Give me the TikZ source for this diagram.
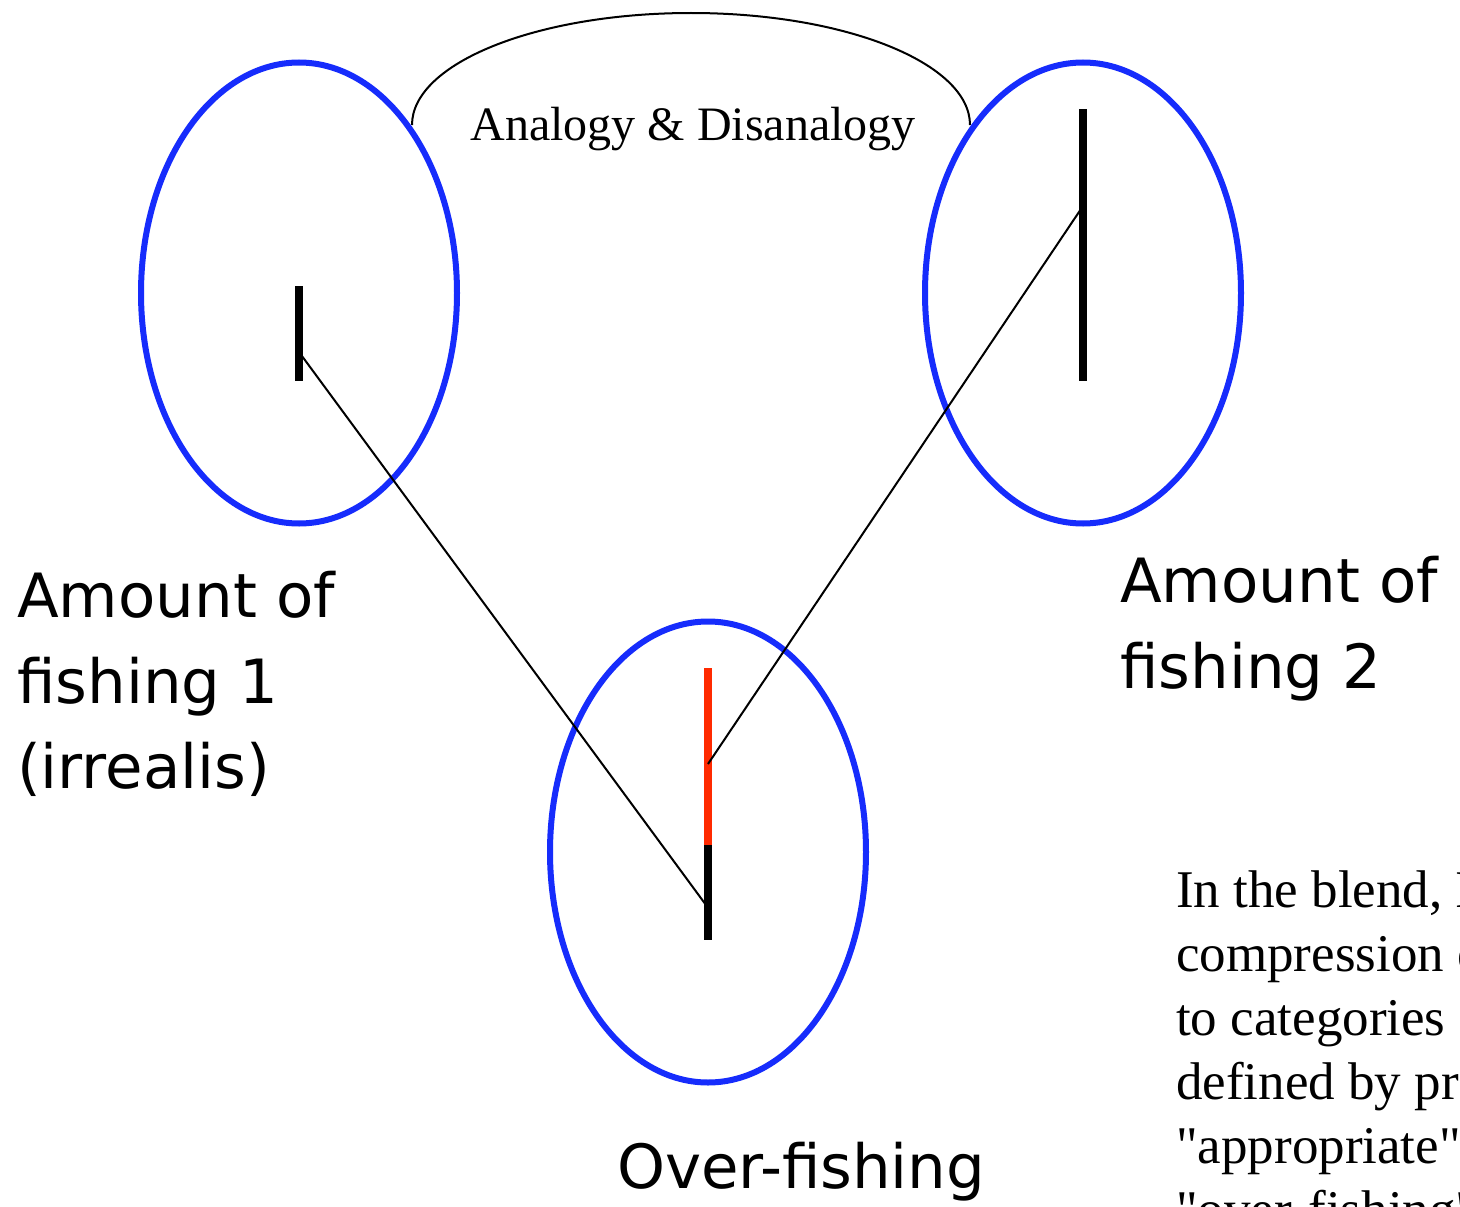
\documentclass[tikz,border=0pt]{standalone}
\usepackage{fontspec}
\setmainfont{Liberation Serif}
\newfontfamily\notefont{Liberation Serif}
\newfontfamily\lblfont{DejaVu Sans}
\usetikzlibrary{shapes.geometric}
\definecolor{ringblue}{RGB}{22,44,252}
\definecolor{barred}{RGB}{255,42,0}
\tikzset{
  ring/.style={draw=ringblue, line width=6pt, ellipse, inner sep=0pt,
    minimum width=316pt, minimum height=461pt},
  barline/.style={line width=8pt, line cap=butt},
  link/.style={line width=2pt},
  sanslbl/.style={anchor=base west, inner sep=0pt, font=\lblfont\fontsize{61}{85}\selectfont},
  seriflbl/.style={anchor=base west, inner sep=0pt, font=\notefont\fontsize{53}{64}\selectfont},
}
\begin{document}
\begin{tikzpicture}[x=1pt,y=-1pt]
\useasboundingbox (0,0) rectangle (1460,1207);
\clip (0,0) rectangle (1460,1207);
\fill[white] (0,0) rectangle (1460,1207);

% ellipses
\node[ring] (e1) at (299,293) {};
\node[ring] (e2) at (1083,293) {};
\node[ring] (e3) at (708,852) {};

% arc
\coordinate (arcL) at (412,125);
\draw[line width=2pt] (arcL) arc[start angle=180, end angle=360, x radius=279, y radius=112];
\node[inner sep=0pt, anchor=base, font=\fontsize{48}{58}\selectfont] (analogy) at (693,140) {Analogy \& Disanalogy};

% bars
\coordinate (b1t) at (299,286); \coordinate (b1b) at (299,381);
\draw[barline] (b1t) -- (b1b);
\coordinate (b2t) at (1083,109); \coordinate (b2b) at (1083,381);
\draw[barline] (b2t) -- (b2b);
\coordinate (b3t) at (708,668); \coordinate (b3m) at (708,845); \coordinate (b3b) at (708,940);
\draw[barline, barred] (b3t) -- (b3m);
\draw[barline, black] (b3m) -- (b3b);

% connectors
\coordinate (p1) at (299,352);
\coordinate (q1) at (706,905);
\coordinate (p2) at (1081,209);
\coordinate (q2) at (708,764);
\draw[link] (p1) -- (q1);
\draw[link] (p2) -- (q2);

% labels
\node[sanslbl] (l1a) at (17,617) {Amount of};
\node[sanslbl] (l1b) at (17,703) {fishing 1};
\node[sanslbl] (l1c) at (17,788) {(irrealis)};
\node[sanslbl] (l2a) at (1120,602) {Amount of};
\node[sanslbl] (l2b) at (1120,688) {fishing 2};
\node[sanslbl] (l3) at (617,1188) {Over-fishing};

% clipped note text
\node[seriflbl] (t1) at (1176,907) {In the blend, I};
\node[seriflbl] (t2) at (1176,971) {compression o};
\node[seriflbl] (t3) at (1176,1035) {to categories};
\node[seriflbl] (t4) at (1176,1099) {defined by pro};
\node[seriflbl] (t5) at (1176,1163) {"appropriate"};
\node[seriflbl] (t6) at (1176,1227) {"over-fishing"};
\end{tikzpicture}
\end{document}
